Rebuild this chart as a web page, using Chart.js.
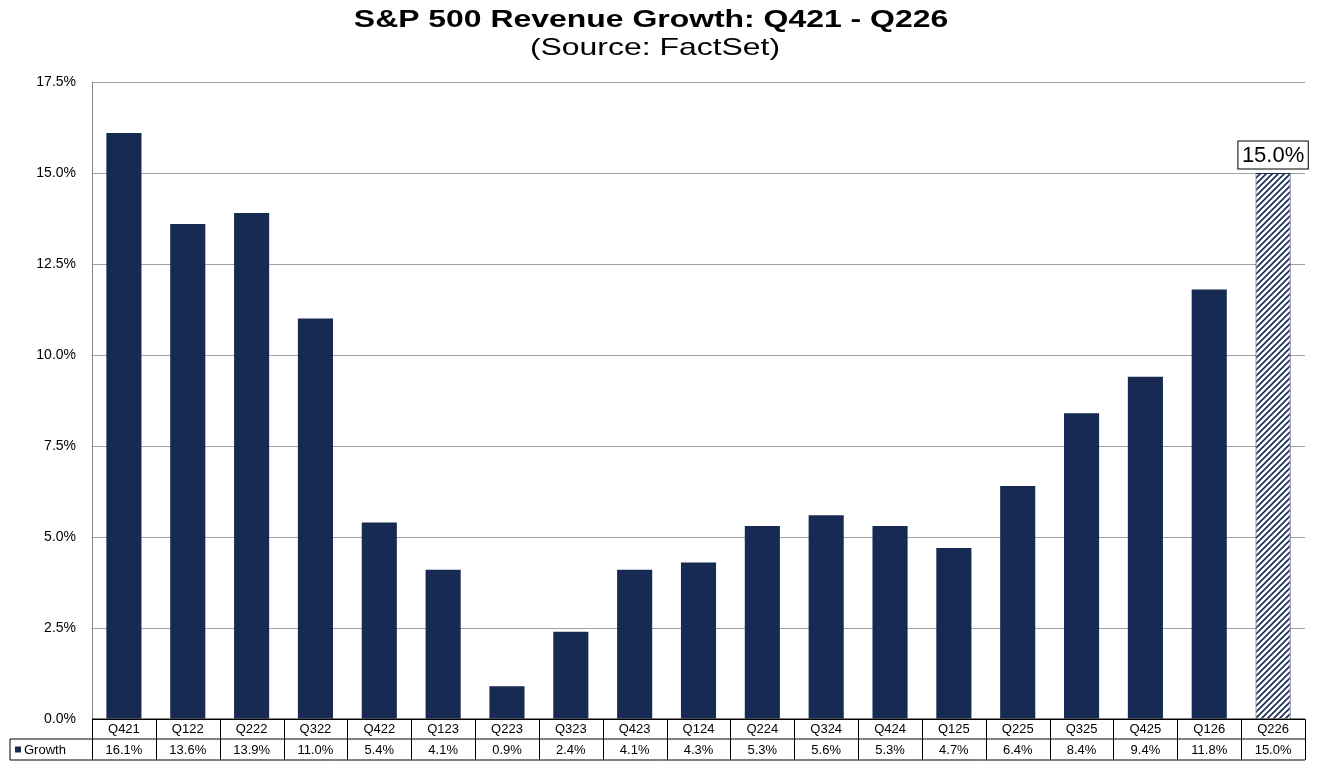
<!DOCTYPE html>
<html><head><meta charset="utf-8">
<script src="https://cdn.jsdelivr.net/npm/chart.js@4"></script>
<style>html,body{margin:0;padding:0;background:#fff}#w{width:1332px;height:763px}</style>
</head><body><div id="w"><canvas id="c"></canvas></div>
<script>
const categories=["Q421","Q122","Q222","Q322","Q422","Q123","Q223","Q323","Q423","Q124","Q224","Q324","Q424","Q125","Q225","Q325","Q425","Q126","Q226"];
const growth=[16.1,13.6,13.9,11.0,5.4,4.1,0.9,2.4,4.1,4.3,5.3,5.6,5.3,4.7,6.4,8.4,9.4,11.8,15.0];
const seriesName="Growth";
const titleText="S&P 500 Revenue Growth: Q421 - Q226";
const subtitleText="(Source: FactSet)";
const NAVY="#172a54";
function hatch(ctx){
  const p=document.createElement('canvas');p.width=6;p.height=6;
  const g=p.getContext('2d');g.fillStyle='#fff';g.fillRect(0,0,6,6);
  g.strokeStyle=NAVY;g.lineWidth=1.6;
  g.beginPath();g.moveTo(0,6);g.lineTo(6,0);g.moveTo(-3,3);g.lineTo(3,-3);g.moveTo(3,9);g.lineTo(9,3);g.stroke();
  return ctx.createPattern(p,'repeat');
}
const ctx=document.getElementById('c').getContext('2d');
const last=growth.length-1;
const bg=growth.map((v,i)=>i===last?hatch(ctx):NAVY);
function stretched(c,text,x,y,sx){c.save();c.translate(x,y);c.scale(sx,1);c.fillText(text,0,0);c.restore();}
const deco={id:'deco',afterDraw(ch){
  const c=ch.ctx,a=ch.chartArea;
  c.save();
  c.fillStyle='#000';c.textAlign='center';c.textBaseline='middle';
  c.font='bold 24px Arial, "Liberation Sans"';stretched(c,titleText,651,20,1.33);
  c.font='24px Arial, "Liberation Sans"';stretched(c,subtitleText,655,48,1.33);
  const n=categories.length,w=(a.right-a.left)/n;
  const y0=a.bottom,y1=a.bottom+20,y2=a.bottom+41;
  c.strokeStyle='#000';c.lineWidth=1;
  c.beginPath();
  c.moveTo(a.left,y0);c.lineTo(a.right,y0);
  c.moveTo(10,y1);c.lineTo(a.right,y1);
  c.moveTo(10,y2);c.lineTo(a.right,y2);
  c.moveTo(10,y1);c.lineTo(10,y2);
  for(let i=0;i<=n;i++){const x=Math.round(a.left+i*w)+0.5;c.moveTo(x,y0);c.lineTo(x,y2);}
  c.stroke();
  c.font='13px Arial, "Liberation Sans"';
  growth.forEach((v,i)=>c.fillText(v.toFixed(1)+'%',a.left+(i+0.5)*w,(y1+y2)/2+1));
  c.fillStyle=NAVY;c.fillRect(15,(y1+y2)/2-3,6,6);
  c.fillStyle='#000';c.textAlign='left';c.fillText(seriesName,24,(y1+y2)/2+1);
  const bar=ch.getDatasetMeta(0).data[last];
  const t=growth[last].toFixed(1)+'%';
  c.font='22px Arial, "Liberation Sans"';c.textAlign='center';
  const tw=c.measureText(t).width+8;
  const by=bar.y-32;
  c.fillStyle='#fff';c.fillRect(bar.x-tw/2,by,tw,28);
  c.strokeRect(bar.x-tw/2,by,tw,28);
  c.fillStyle='#000';c.fillText(t,bar.x,by+15);
  c.restore();
}};
new Chart(ctx,{type:'bar',
 data:{labels:categories,datasets:[{label:seriesName,data:growth,backgroundColor:bg,borderColor:NAVY,borderWidth:growth.map((v,i)=>i===last?1:0),barPercentage:0.55,categoryPercentage:1}]},
 options:{responsive:true,maintainAspectRatio:false,animation:false,
  layout:{padding:{top:82,right:27,bottom:24,left:0}},
  plugins:{legend:{display:false},tooltip:{enabled:false}},
  scales:{
   y:{min:0,max:17.5,afterFit:s=>{s.width=92;},
      ticks:{stepSize:2.5,callback:v=>v.toFixed(1)+'%',color:'#000',font:{size:14,family:'Arial, "Liberation Sans"'},padding:16},
      grid:{color:'#a0a0a0',drawTicks:false},border:{color:'#888'}},
   x:{afterFit:s=>{s.height=20;},
      ticks:{color:'#000',font:{size:13,family:'Arial, "Liberation Sans"'},padding:3,maxRotation:0,autoSkip:false},
      grid:{display:false,drawTicks:false},border:{color:'#000'}}
  }},
 plugins:[deco]});
</script></body></html>
